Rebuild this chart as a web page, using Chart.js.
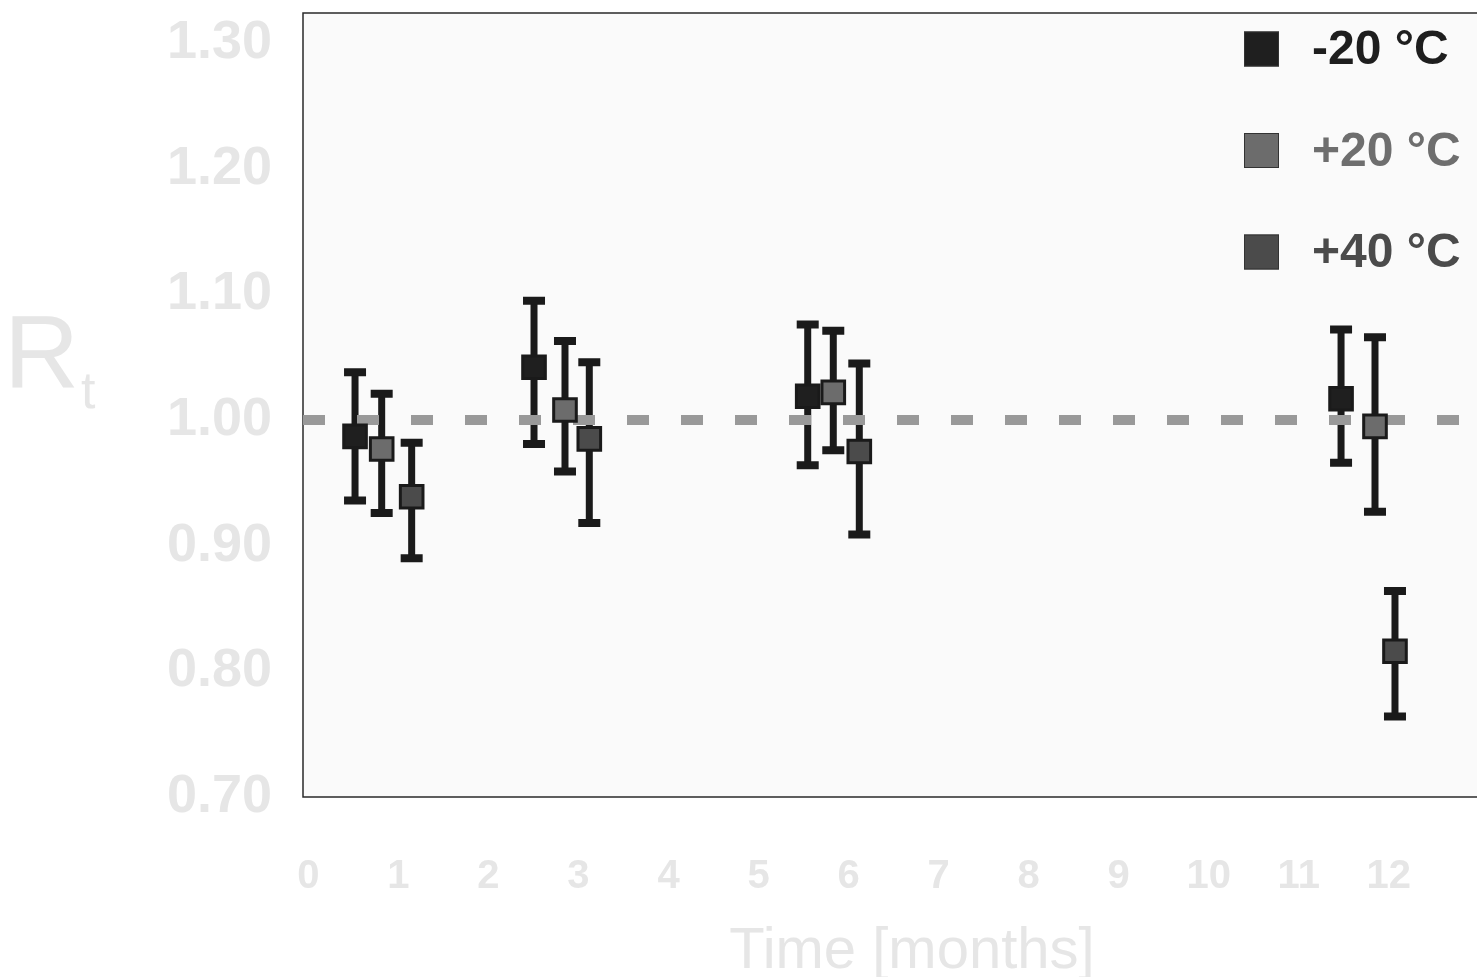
<!DOCTYPE html>
<html>
<head>
<meta charset="utf-8">
<script src="https://cdn.jsdelivr.net/npm/chart.js@4.4.1/dist/chart.umd.min.js"></script>
<style>
    html, body { margin: 0; padding: 0; background: #ffffff; }
    #wrap { width: 1477px; height: 977px; position: relative; }
</style>
</head>
<body>
<div id="wrap"><canvas id="stabilityChart"></canvas></div>
<script>
// Rt vs storage time, three storage temperatures
const seriesLabels = ['-20 °C', '+20 °C', '+40 °C'];

// x position of each plotted point (months), spread around 1, 3, 6 and 12 months
const xMinus20 = [0.518, 2.506, 5.546, 11.470];
const xPlus20 = [0.814, 2.850, 5.830, 11.847];
const xPlus40 = [1.147, 3.120, 6.119, 12.069];

const rtMinus20 = [0.987, 1.042, 1.019, 1.017];
const rtPlus20 = [0.977, 1.008, 1.022, 0.995];
const rtPlus40 = [0.939, 0.985, 0.975, 0.816];

// error bar ends
const lowMinus20 = [0.936, 0.981, 0.964, 0.966];
const highMinus20 = [1.038, 1.095, 1.076, 1.072];
const lowPlus20 = [0.926, 0.959, 0.976, 0.927];
const highPlus20 = [1.021, 1.063, 1.071, 1.066];
const lowPlus40 = [0.890, 0.918, 0.909, 0.764];
const highPlus40 = [0.982, 1.046, 1.045, 0.864];

const referenceRt = 1.0;

const xTicks = [0, 1, 2, 3, 4, 5, 6, 7, 8, 9, 10, 11, 12];
const yTicks = [0.70, 0.80, 0.90, 1.00, 1.10, 1.20, 1.30];

const X_MIN = -0.06;
const X_MAX = 12.98;
const Y_MIN = 0.70;
const Y_MAX = 1.324;

const FILLS = ['#1f1f1f', '#6c6c6c', '#4b4b4b'];
const TEXT_COLORS = ['#1e1e1e', '#6e6e6e', '#4b4b4b'];
const LABEL_GREY = '#e6e6e6';
const BAR_COLOR = '#1a1a1a';

function points(xs, ys) {
    return xs.map((x, i) => ({ x: x, y: ys[i] }));
}

const errorRanges = [
    { xs: xMinus20, low: lowMinus20, high: highMinus20 },
    { xs: xPlus20, low: lowPlus20, high: highPlus20 },
    { xs: xPlus40, low: lowPlus40, high: highPlus40 }
];

// plot background + frame
const plotFrame = {
    id: 'plotFrame',
    beforeDatasetsDraw(chart) {
        const { ctx, chartArea: a } = chart;
        ctx.save();
        ctx.fillStyle = '#fafafa';
        ctx.fillRect(a.left, a.top, a.right - a.left, a.bottom - a.top);
        ctx.strokeStyle = '#2a2a2a';
        ctx.lineWidth = 1.5;
        ctx.beginPath();
        ctx.moveTo(a.right + 5, a.top);
        ctx.lineTo(a.left, a.top);
        ctx.lineTo(a.left, a.bottom);
        ctx.lineTo(a.right + 5, a.bottom);
        ctx.stroke();
        ctx.restore();
    }
};

// vertical error bars with caps, drawn under the markers
const errorBars = {
    id: 'errorBars',
    beforeDatasetsDraw(chart) {
        const { ctx, scales: { x, y } } = chart;
        ctx.save();
        ctx.strokeStyle = BAR_COLOR;
        ctx.lineCap = 'butt';
        errorRanges.forEach(r => {
            r.xs.forEach((xv, i) => {
                const px = x.getPixelForValue(xv);
                const top = y.getPixelForValue(r.high[i]);
                const bot = y.getPixelForValue(r.low[i]);
                ctx.lineWidth = 7;
                ctx.beginPath();
                ctx.moveTo(px, top);
                ctx.lineTo(px, bot);
                ctx.stroke();
                ctx.lineWidth = 8;
                ctx.beginPath();
                ctx.moveTo(px - 11, top);
                ctx.lineTo(px + 11, top);
                ctx.moveTo(px - 11, bot);
                ctx.lineTo(px + 11, bot);
                ctx.stroke();
            });
        });
        ctx.restore();
    }
};

// legend stacked in the top right corner of the plot
const cornerLegend = {
    id: 'cornerLegend',
    afterDatasetsDraw(chart) {
        const { ctx, chartArea: a } = chart;
        ctx.save();
        seriesLabels.forEach((label, i) => {
            const cy = a.top + 36 + i * 101.5;
            ctx.fillStyle = FILLS[i];
            ctx.fillRect(a.right - 233, cy - 17.5, 35, 35);
            ctx.strokeStyle = '#333333';
            ctx.lineWidth = 1;
            ctx.strokeRect(a.right - 233 + 0.5, cy - 17, 34, 34);
            ctx.fillStyle = TEXT_COLORS[i];
            ctx.font = 'bold 48px "Liberation Sans", Arial, sans-serif';
            ctx.textAlign = 'left';
            ctx.textBaseline = 'middle';
            ctx.fillText(label, a.right - 165, cy + 2);
        });
        ctx.restore();
    }
};

// axis titles: R with subscript t, and the time label
const axisTitles = {
    id: 'axisTitles',
    afterDraw(chart) {
        const { ctx } = chart;
        ctx.save();
        ctx.fillStyle = LABEL_GREY;
        ctx.textBaseline = 'alphabetic';
        ctx.textAlign = 'left';
        ctx.font = '104px "Liberation Sans", Arial, sans-serif';
        ctx.fillText('R', 4, 388);
        ctx.font = '52px "Liberation Sans", Arial, sans-serif';
        ctx.fillText('t', 81, 408);
        ctx.textAlign = 'center';
        ctx.font = '58px "Liberation Sans", Arial, sans-serif';
        ctx.fillText('Time [months]', 912, 968);
        ctx.restore();
    }
};

const markerBase = {
    type: 'scatter',
    pointStyle: 'rect',
    pointRadius: 16,
    pointHoverRadius: 16,
    borderWidth: 3,
    borderColor: BAR_COLOR,
    order: 0
};

new Chart(document.getElementById('stabilityChart'), {
    type: 'scatter',
    data: {
        datasets: [
            Object.assign({}, markerBase, { label: seriesLabels[0], data: points(xMinus20, rtMinus20), backgroundColor: FILLS[0] }),
            Object.assign({}, markerBase, { label: seriesLabels[1], data: points(xPlus20, rtPlus20), backgroundColor: FILLS[1] }),
            Object.assign({}, markerBase, { label: seriesLabels[2], data: points(xPlus40, rtPlus40), backgroundColor: FILLS[2] }),
            {
                type: 'line',
                label: 'reference',
                data: [{ x: X_MIN, y: referenceRt }, { x: X_MAX, y: referenceRt }],
                borderColor: '#999999',
                borderWidth: 10,
                borderDash: [22, 32],
                borderCapStyle: 'butt',
                pointRadius: 0,
                fill: false,
                order: 10
            }
        ]
    },
    options: {
        responsive: true,
        maintainAspectRatio: false,
        animation: false,
        layout: {
            autoPadding: false,
            padding: { top: 13, left: 0, right: 0, bottom: 0 }
        },
        plugins: {
            legend: { display: false },
            tooltip: { enabled: false }
        },
        scales: {
            x: {
                type: 'linear',
                min: X_MIN,
                max: X_MAX,
                afterBuildTicks: s => { s.ticks = xTicks.map(v => ({ value: v })); },
                afterFit: s => {
                    s.height = 180;
                    s.paddingLeft = 0;
                    s.paddingRight = 0;
                },
                grid: { display: false, drawTicks: false },
                border: { display: false },
                ticks: {
                    color: LABEL_GREY,
                    padding: 56,
                    maxRotation: 0,
                    autoSkip: false,
                    font: { family: '"Liberation Sans", Arial, sans-serif', size: 40, weight: 'bold' }
                }
            },
            y: {
                type: 'linear',
                min: Y_MIN,
                max: Y_MAX,
                afterBuildTicks: s => { s.ticks = yTicks.map(v => ({ value: v })); },
                afterFit: s => {
                    s.width = 303;
                    s.paddingTop = 0;
                    s.paddingBottom = 0;
                },
                grid: { display: false, drawTicks: false },
                border: { display: false },
                ticks: {
                    color: LABEL_GREY,
                    padding: 31,
                    autoSkip: false,
                    font: { family: '"Liberation Sans", Arial, sans-serif', size: 54, weight: 'bold' },
                    callback: v => v.toFixed(2)
                }
            }
        }
    },
    plugins: [plotFrame, errorBars, cornerLegend, axisTitles]
});
</script>
</body>
</html>
